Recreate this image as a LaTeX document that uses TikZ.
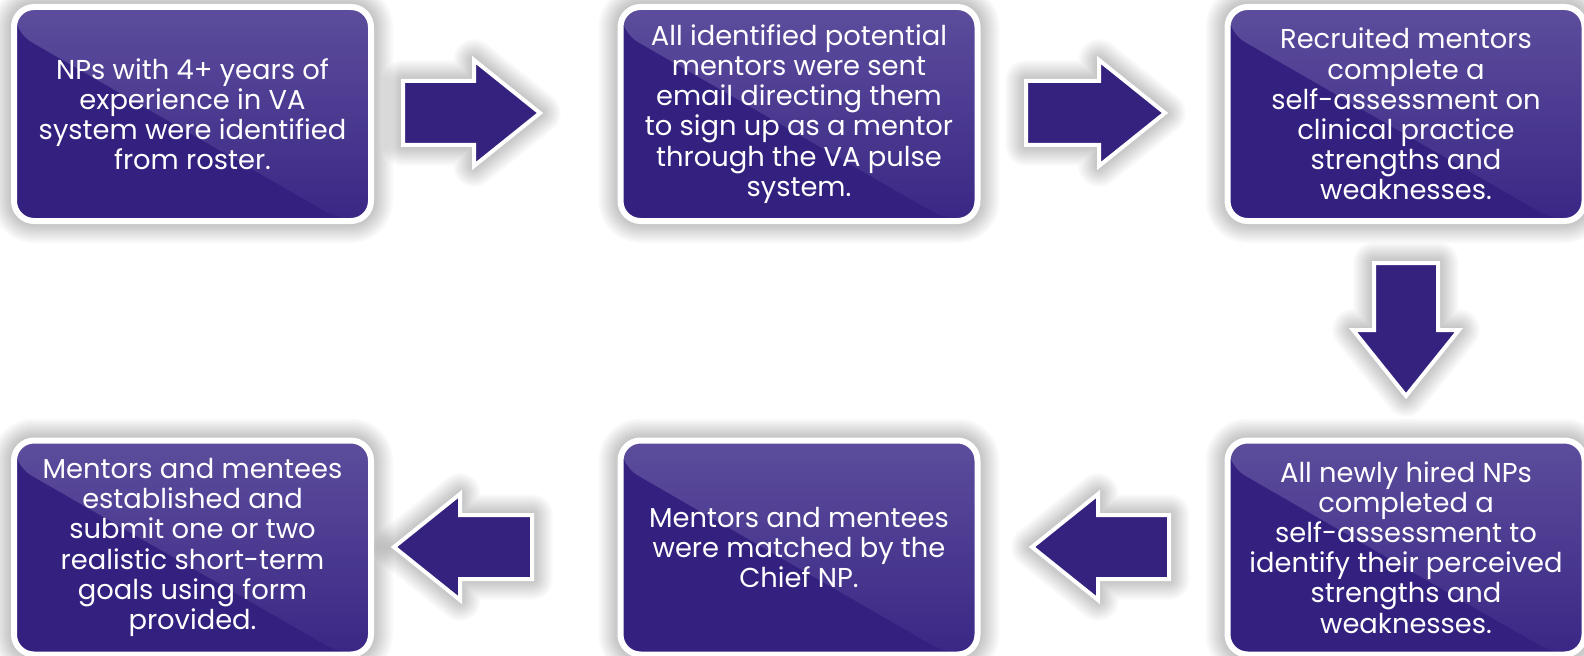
\documentclass[tikz,border=0pt]{standalone}
\usepackage{fontspec}
\setmainfont{Poppins}
\usetikzlibrary{calc,backgrounds}

\definecolor{npdark}{HTML}{34207E}
\definecolor{nplight}{HTML}{5D4D9C}
\definecolor{npmid}{HTML}{3A2785}
\definecolor{arrowpurple}{HTML}{35227F}

\tikzset{
  % process step: rounded purple card with white rim and a diagonal sheen
  stepbox/.style={
    rounded corners=15pt, minimum width=267.75pt, minimum height=160.5pt,
    fill=npdark, draw=white, line width=4.5pt, text=white, align=center,
    inner sep=0pt, font=\fontsize{20.5pt}{22.6pt}\selectfont,
    path picture={
      \fill[top color=nplight, bottom color=npmid]
        ($(path picture bounding box.north west)+(0,25)$) --
        (path picture bounding box.north west) --
        (path picture bounding box.north east) --
        (path picture bounding box.south east) --
        ($(path picture bounding box.south east)+(-29,0)$) -- cycle;
    }
  },
  arrowbody/.style={fill=arrowpurple, draw=white, line width=3pt, line join=miter},
  haze/.style={draw=black, draw opacity=0.022, line join=round, fill=none},
}

% block arrow from tail coordinate #1 to tip coordinate #2
\newcommand\blockarrow[2]{%
  \coordinate (hb) at ($(#2)!49.5pt!(#1)$);
  \path[save path=\arrowpath]
    ($(#1)!24pt!90:(#2)$) -- ($(hb)!24pt!90:(#2)$) -- ($(hb)!39.75pt!90:(#2)$) --
    (#2) -- ($(hb)!39.75pt!-90:(#2)$) -- ($(hb)!24pt!-90:(#2)$) --
    ($(#1)!24pt!-90:(#2)$) -- cycle;
  \begin{scope}[on background layer]
    \foreach \w in {4,7,...,31} {\draw[haze, line width=\w pt, use path=\arrowpath];}
  \end{scope}
  \path[arrowbody, use path=\arrowpath];
}

\begin{document}
\begin{tikzpicture}[x=0.75pt, y=-0.75pt]
  \begin{scope}[on background layer]
    \fill[white] (0,0) rectangle (1584,656);
  \end{scope}
  \useasboundingbox (0,0) rectangle (1584,656);

  % process steps
  \node[stepbox] (b1) at (192.5,114) {NPs with 4+ years of\\experience in VA\\system were identified\\from roster.};
  \node[stepbox] (b2) at (799,114) {All identified potential\\mentors were sent\\email directing them\\to sign up as a mentor\\through the VA pulse\\system.};
  \node[stepbox] (b3) at (1406,114) {Recruited mentors\\complete a\\self-assessment on\\clinical practice\\strengths and\\weaknesses.};
  \node[stepbox] (b6) at (1406,547.5) {All newly hired NPs\\completed a\\self-assessment to\\identify their perceived\\strengths and\\weaknesses.};
  \node[stepbox] (b5) at (799,547.5) {Mentors and mentees\\were matched by the\\Chief NP.};
  \node[stepbox] (b4) at (192.5,547.5) {Mentors and mentees\\established and\\submit one or two\\realistic short-term\\goals using form\\provided.};

  % soft shadows behind the cards
  \begin{scope}[on background layer]
    \foreach \b in {b1,b2,b3,b4,b5,b6} {
      \foreach \w in {6,9,...,33} {
        \draw[haze, line width=\w pt, rounded corners=15pt]
          ($(\b.north west)+(3,3)$) rectangle ($(\b.south east)+(-3,-3)$);
      }
    }
  \end{scope}

  % arrow ends
  \coordinate (a1tail) at (403,113);
  \coordinate (a1tip)  at (540,113);
  \coordinate (a2tail) at (1026,113);
  \coordinate (a2tip)  at (1165,113);
  \coordinate (a3tail) at (1406,263);
  \coordinate (a3tip)  at (1406,396);
  \coordinate (a4tail) at (1169,547);
  \coordinate (a4tip)  at (1032,547);
  \coordinate (a5tail) at (532,547);
  \coordinate (a5tip)  at (394,547);

  \blockarrow{a1tail}{a1tip}
  \blockarrow{a2tail}{a2tip}
  \blockarrow{a3tail}{a3tip}
  \blockarrow{a4tail}{a4tip}
  \blockarrow{a5tail}{a5tip}
\end{tikzpicture}
\end{document}
